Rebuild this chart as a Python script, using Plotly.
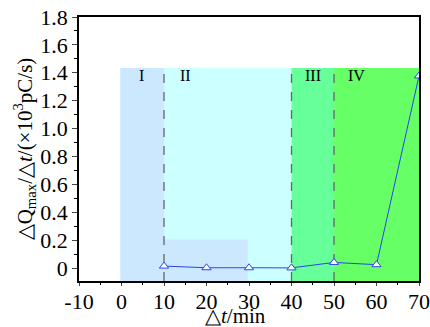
import plotly.graph_objects as go

# Data
t_min = [10, 20, 30, 40, 50, 60, 70]
dq_rate = [0.014, 0.002, 0.002, 0.001, 0.040, 0.024, 1.377]

x_ticks = [-10, 0, 10, 20, 30, 40, 50, 60, 70]
x_ticktext = ["-10", "0", "10", "20", "30", "40", "50", "60", "70"]
y_ticks = [0, 0.2, 0.4, 0.6, 0.8, 1.0, 1.2, 1.4, 1.6, 1.8]
y_ticktext = ["0", "0.2", "0.4", "0.6", "0.8", "1.0", "1.2", "1.4", "1.6", "1.8"]

# Stage regions: (x0, x1, color, label, label_x)
stages = [
    (-0.3, 10, "#cce8ff", "I", 4.7),
    (10, 40, "#ccffff", "II", 15),
    (40, 50, "#66ff99", "III", 45),
    (50, 70, "#66ff66", "IV", 55.3),
]
stage_top = 1.435
y_min = -0.093
boundaries = [10, 40, 50]

fig = go.Figure()

shapes = []
for x0, x1, col, lab, lx in stages:
    shapes.append(dict(type="rect", xref="x", yref="y", x0=x0, x1=x1, y0=y_min, y1=stage_top,
                       fillcolor=col, line=dict(width=0), layer="below"))
# small lighter box in stage II
shapes.append(dict(type="rect", xref="x", yref="y", x0=10, x1=29.7, y0=y_min, y1=0.205,
                   fillcolor="#cce8ff", line=dict(width=0), layer="below"))
for b in boundaries:
    shapes.append(dict(type="line", xref="x", yref="y", x0=b, x1=b, y0=y_min, y1=stage_top,
                       line=dict(color="#666666", width=1.3, dash="dash"), layer="below"))

font_fam = "Liberation Serif"
annotations = []
for x0, x1, col, lab, lx in stages:
    annotations.append(dict(x=lx, y=1.38, xref="x", yref="y", text=lab, showarrow=False,
                            font=dict(family=font_fam, size=16, color="black")))
# x-axis title
annotations.append(dict(x=0.46, y=-0.18, xref="paper", yref="paper", xanchor="center",
                        yanchor="bottom", text="△<i>t</i>/min", showarrow=False, borderpad=0,
                        font=dict(family=font_fam, size=21, color="black")))

fig.add_trace(go.Scatter(
    x=t_min, y=dq_rate, mode="lines",
    line=dict(color="#2a44ee", width=1),
    showlegend=False,
))
fig.add_trace(go.Scatter(
    x=t_min, y=dq_rate, mode="markers",
    marker=dict(symbol="triangle-up", size=8, color="white",
                line=dict(width=1, color="#2a44ee")),
    showlegend=False,
))

fig.update_layout(
    width=430, height=327,
    margin=dict(l=79, r=11, t=17, b=46),
    plot_bgcolor="white", paper_bgcolor="white",
    shapes=shapes, annotations=annotations,
    font=dict(family=font_fam, color="black"),
    xaxis=dict(
        range=[-10, 70], tickvals=x_ticks, ticktext=x_ticktext, ticks="outside", ticklen=3, tickwidth=1,
        showline=True, linecolor="black", linewidth=1.5, mirror=True,
        showgrid=False, zeroline=False, automargin=False, ticklabelstandoff=-3,
        tickfont=dict(family=font_fam, size=22),
        minor=dict(dtick=5, ticks="outside", ticklen=2, tickcolor="black", showgrid=False),
    ),
    yaxis=dict(
        range=[y_min, 1.8], tickvals=y_ticks, ticktext=y_ticktext, ticks="outside", ticklen=5,
        showline=True, linecolor="black", linewidth=1.5, mirror=True,
        showgrid=False, zeroline=False, automargin=False,
        tickfont=dict(family=font_fam, size=22),
        minor=dict(dtick=0.1, tick0=0, ticks="outside", ticklen=3, tickcolor="black", showgrid=False),
        title=dict(text="△Q<sub>max</sub>/△<i>t</i>/(×10<sup>3</sup>pC/s)",
                   font=dict(family=font_fam, size=21), standoff=2),
    ),
)

fig.write_html("out.html")
